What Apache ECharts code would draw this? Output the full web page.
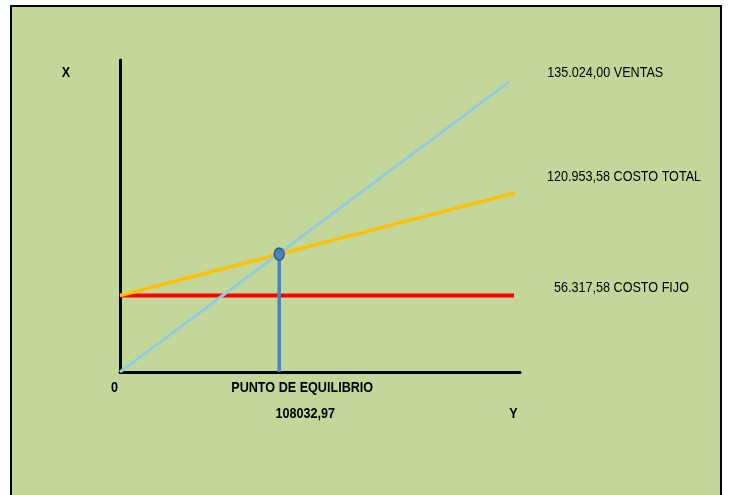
<!DOCTYPE html>
<html lang="es">
  <head>
    <meta charset="UTF-8" />
    <script src="https://cdn.jsdelivr.net/npm/echarts@6/dist/echarts.min.js"></script>
    <title>Punto de equilibrio</title>
    <style>
      html, body { margin: 0; padding: 0; background: #ffffff; }
      #frame {
        position: absolute;
        left: 10px;
        top: 5px;
        width: 712px;
        height: 520px;
        box-sizing: border-box;
        border: 2px solid #000;
        background: #c4d79b;
      }
      #app {
        position: absolute;
        left: 0;
        top: 0;
        width: 730px;
        height: 495px;
      }
    </style>
  </head>
  <body>
    <div id="frame"></div>
    <div id="app"></div>

    <script>
      // posiciones (escala esquematica 0-100)
      const ventasX = [0, 97.3];
      const ventasY = [0, 93.0];
      const costoTotalX = [0, 98.75];
      const costoTotalY = [24.5, 57.4];
      const costoFijoX = [0, 98.5];
      const costoFijoY = [24.5, 24.5];
      const equilibrio = [39.8, 37.8];

      // textos
      const rightLabels = ["135.024,00 VENTAS", "120.953,58 COSTO TOTAL", "56.317,58 COSTO FIJO"];
      const equilibrioTexto = "PUNTO DE EQUILIBRIO";
      const equilibrioValor = "108032,97";

      // no hay Arial Narrow: se comprime Liberation Sans en horizontal
      const font = "'Liberation Sans', Arial, sans-serif";
      const narrow = 0.84;

      const pares = (xs, ys) => xs.map((x, i) => [x, ys[i]]);

      const chart = echarts.init(document.getElementById("app"));

      const axisBase = {
        type: "value",
        min: 0,
        max: 100,
        axisLine: { show: true, lineStyle: { color: "#000", width: 3 } },
        axisTick: { show: false },
        axisLabel: { show: false },
        splitLine: { show: false },
      };

      chart.setOption({
        animation: false,
        backgroundColor: "transparent",
        grid: { left: 120, right: 210, top: 60, bottom: 123 },
        xAxis: axisBase,
        yAxis: axisBase,
        series: [
          {
            type: "line",
            name: "costo fijo",
            data: pares(costoFijoX, costoFijoY),
            symbol: "none",
            lineStyle: { color: "#ff0000", width: 4 },
          },
          {
            type: "line",
            name: "costo total",
            data: pares(costoTotalX, costoTotalY),
            symbol: "none",
            lineStyle: { color: "#ffc000", width: 3.5 },
          },
          {
            type: "line",
            name: "ventas",
            data: pares(ventasX, ventasY),
            symbol: "none",
            lineStyle: { color: "#92cddc", width: 3 },
          },
          {
            type: "line",
            name: "equilibrio",
            data: [
              { value: [equilibrio[0], 0], symbol: "none" },
              { value: equilibrio, symbol: "circle" },
            ],
            symbolSize: [10, 12],
            itemStyle: { color: "#4f81bd", borderColor: "#385d8a", borderWidth: 1.5 },
            lineStyle: { color: "#4f81bd", width: 3.5 },
            z: 5,
          },
        ],
      });

      // textos: los de la derecha se colocan desde el final de cada linea
      const fin = (xs, ys) => chart.convertToPixel({ gridIndex: 0 }, [xs[xs.length - 1], ys[ys.length - 1]]);
      const pV = fin(ventasX, ventasY);
      const pT = fin(costoTotalX, costoTotalY);
      const pF = fin(costoFijoX, costoFijoY);
      const pE = chart.convertToPixel({ gridIndex: 0 }, [equilibrio[0], 0]);
      const p0 = chart.convertToPixel({ gridIndex: 0 }, [0, 0]);

      const txt = (text, x, y, align, bold) => ({
        type: "text",
        x: x,
        y: y,
        scaleX: narrow,
        style: {
          text: text,
          font: (bold ? "bold " : "") + "15px " + font,
          fill: "#000",
          align: align,
          verticalAlign: "middle",
        },
      });

      chart.setOption({
        graphic: [
          txt(rightLabels[0], pV[0] + 38, pV[1] - 9, "left", false),
          txt(rightLabels[1], pT[0] + 32, pT[1] - 16, "left", false),
          txt(rightLabels[2], pF[0] + 40, pF[1] - 8, "left", false),
          txt("X", 66, 73, "center", true),
          txt("0", p0[0] - 5.5, p0[1] + 16, "center", true),
          txt(equilibrioTexto, pE[0] + 23, p0[1] + 15.5, "center", true),
          txt(equilibrioValor, pE[0] + 26, p0[1] + 41.5, "center", true),
          txt("Y", 513.5, p0[1] + 41.5, "center", true),
        ],
      });
    </script>
  </body>
</html>
